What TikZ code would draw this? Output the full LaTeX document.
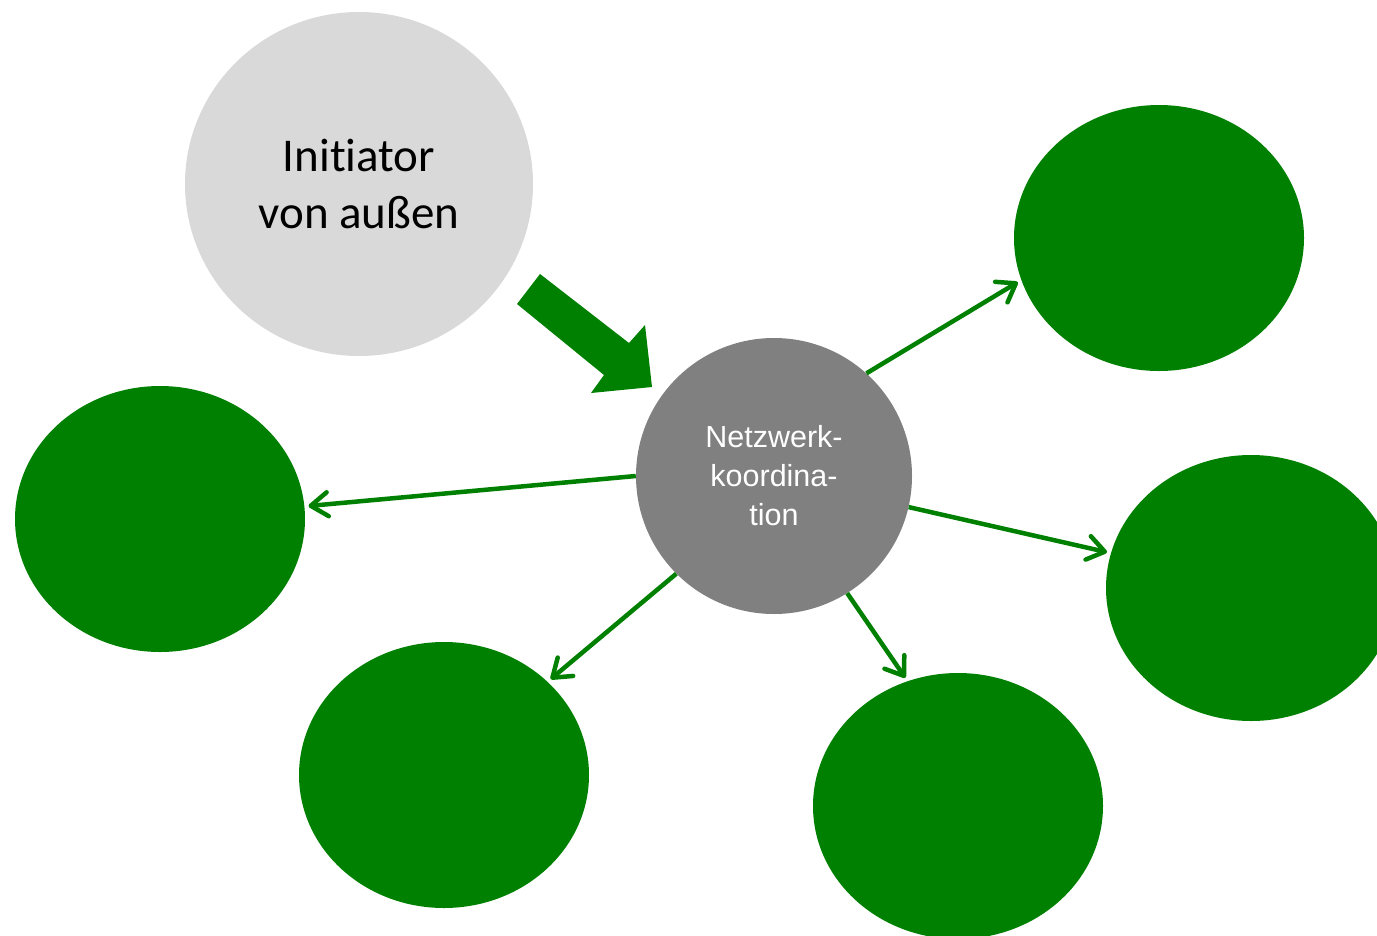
\documentclass[tikz,border=0pt]{standalone}
\usepackage{fontspec}
\newfontfamily\carlito[Ligatures={NoCommon,NoRare}]{Carlito}
\newfontfamily\libsans{Liberation Sans}
\usetikzlibrary{shapes.geometric,arrows.meta}
\definecolor{dgreen}{HTML}{008000}
\definecolor{lgray}{HTML}{D9D9D9}
\definecolor{mgray}{HTML}{808080}
\begin{document}
\begin{tikzpicture}[x=1pt,y=-1pt,
  greenell/.style={ellipse,fill=dgreen,draw=none,inner sep=0pt,minimum width=290pt,minimum height=266pt},
  conn/.style={draw=dgreen,line width=4.5pt,shorten >=4pt,-{Straight Barb[length=17pt,width=24pt,line cap=round,line join=round]}}]
\useasboundingbox (0,0) rectangle (1377,935);
\node[ellipse,fill=lgray,inner sep=0pt,minimum width=348pt,minimum height=344pt,align=center,
  font={\carlito\fontsize{47}{57.5}\selectfont}] (init) at (359,184) {Initiator\\von außen};
\node[circle,fill=mgray,inner sep=0pt,minimum size=276pt,align=center,text=white,
  font={\libsans\fontsize{30.5}{39}\selectfont}] (c) at (774,476) {Netzwerk-\\koordina-\\tion};
\node[greenell] (tr) at (1159,238) {};
\node[greenell] (l) at (160,519) {};
\node[greenell] (r) at (1251,588) {};
\node[greenell] (bl) at (444,775) {};
\node[greenell] (b) at (958,806) {};
\fill[dgreen] (540,274) -- (517,304) -- (604,375) -- (591,393) -- (652,387) -- (645,325) -- (629,343) -- cycle;
\draw[conn] (c.48) -- (tr.197);
\draw[conn] (c.180) -- (l.5.8);
\draw[conn] (c.-13.4) -- (r.166.2);
\draw[conn] (c.225) -- (bl.42.4);
\draw[conn] (c.302) -- (b.112.8);
\end{tikzpicture}
\end{document}
